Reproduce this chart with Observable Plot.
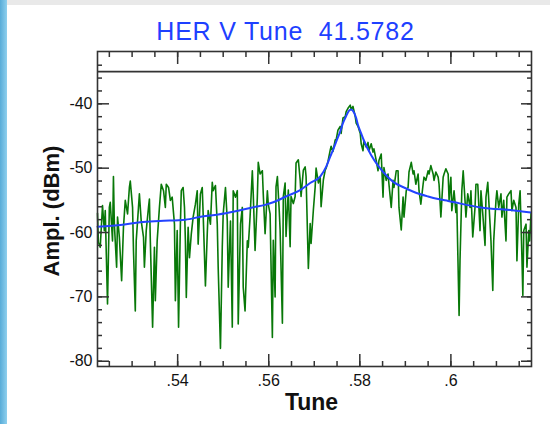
<!DOCTYPE html>
<html>
<head>
<meta charset="utf-8">
<script src="https://cdn.jsdelivr.net/npm/d3@7"></script>
<script src="https://cdn.jsdelivr.net/npm/@observablehq/plot@0.6"></script>
<style>
  body { margin: 0; background: #fff; }
  #page { position: relative; width: 550px; height: 424px; overflow: hidden; background: #fff;
          font-family: "Liberation Sans", Arial, Helvetica, sans-serif; }
  #edge { position: absolute; left: 0; top: 0; width: 7px; height: 424px;
          background: linear-gradient(to right, #58acd8, #8fd0ee); }
  #bar { position: absolute; left: 7px; top: 0; right: 0; height: 5px; background: #e9e9e9; }
  #title { position: absolute; left: 20px; top: 19px; width: 531px; text-align: center;
           font-size: 25px; line-height: 25px; letter-spacing: 0.8px; color: #1e40ff; white-space: pre; }
  #chart { position: absolute; left: 0; top: 46px; }
</style>
</head>
<body>
<div id="page">
  <div id="edge"></div>
  <div id="bar"></div>
  <div id="title">HER V Tune  41.5782</div>
  <div id="chart"></div>
</div>
<script>
// Measured spectrum: tune (fractional) vs. amplitude (dBm)
const specTune = [
  0.5224,0.5226,0.5230,0.5235,0.5239,0.5241,0.5246,0.5250,0.5252,0.5257,0.5259,0.5261,0.5266,0.5268,0.5272,0.5277,
  0.5281,0.5285,0.5290,0.5294,0.5296,0.5301,0.5303,0.5307,0.5309,0.5314,0.5316,0.5320,0.5325,0.5327,0.5331,0.5336,
  0.5338,0.5340,0.5345,0.5349,0.5351,0.5355,0.5360,0.5364,0.5369,0.5373,0.5375,0.5380,0.5384,0.5388,0.5393,0.5395,
  0.5399,0.5402,0.5406,0.5408,0.5412,0.5415,0.5417,0.5419,0.5423,0.5426,0.5430,0.5434,0.5439,0.5443,0.5445,0.5450,
  0.5454,0.5456,0.5461,0.5465,0.5467,0.5472,0.5476,0.5478,0.5483,0.5487,0.5489,0.5494,0.5498,0.5500,0.5505,0.5509,
  0.5511,0.5516,0.5520,0.5522,0.5527,0.5531,0.5533,0.5538,0.5542,0.5544,0.5548,0.5553,0.5555,0.5559,0.5564,0.5566,
  0.5570,0.5575,0.5577,0.5581,0.5586,0.5588,0.5592,0.5597,0.5599,0.5603,0.5608,0.5610,0.5614,0.5616,0.5619,0.5623,
  0.5625,0.5630,0.5632,0.5636,0.5638,0.5643,0.5647,0.5649,0.5654,0.5658,0.5660,0.5665,0.5669,0.5671,0.5676,0.5680,
  0.5682,0.5687,0.5691,0.5693,0.5698,0.5702,0.5704,0.5709,0.5713,0.5715,0.5720,0.5724,0.5726,0.5730,0.5735,0.5737,
  0.5741,0.5746,0.5748,0.5752,0.5757,0.5759,0.5763,0.5768,0.5770,0.5774,0.5779,0.5781,0.5785,0.5790,0.5792,0.5796,
  0.5801,0.5803,0.5807,0.5809,0.5814,0.5818,0.5820,0.5825,0.5829,0.5831,0.5836,0.5840,0.5842,0.5847,0.5851,0.5853,
  0.5858,0.5862,0.5864,0.5869,0.5873,0.5875,0.5880,0.5884,0.5886,0.5891,0.5895,0.5897,0.5902,0.5906,0.5908,0.5913,
  0.5917,0.5919,0.5923,0.5928,0.5930,0.5934,0.5939,0.5941,0.5945,0.5950,0.5952,0.5956,0.5961,0.5963,0.5967,0.5972,
  0.5974,0.5978,0.5983,0.5985,0.5989,0.5994,0.5996,0.6000,0.6002,0.6007,0.6011,0.6013,0.6018,0.6020,0.6024,0.6027,
  0.6031,0.6033,0.6037,0.6042,0.6044,0.6048,0.6053,0.6055,0.6059,0.6064,0.6066,0.6070,0.6075,0.6077,0.6081,0.6086,
  0.6088,0.6092,0.6094,0.6099,0.6101,0.6105,0.6110,0.6112,0.6116,0.6121,0.6123,0.6127,0.6132,0.6134,0.6138,0.6143,
  0.6145,0.6149,0.6152,0.6156,0.6158,0.6160,0.6165,0.6167,0.6171,0.6173,0.6176
];
const specDbm = [
  -57.0,-61.5,-62.3,-55.8,-59.7,-56.6,-71.1,-56.1,-55.3,-61.3,-51.3,-58.7,-65.4,-57.6,-60.7,-67.5,
  -59.2,-55.0,-57.1,-53.0,-52.0,-56.1,-62.8,-72.2,-61.3,-56.1,-54.0,-58.2,-60.7,-65.4,-59.7,-56.1,
  -54.8,-61.3,-74.7,-62.3,-70.6,-61.3,-56.1,-52.5,-53.5,-56.1,-52.5,-53.0,-55.0,-54.5,-58.7,-70.6,
  -59.7,-74.7,-58.7,-53.5,-53.0,-56.1,-61.3,-70.1,-59.2,-63.9,-60.2,-57.6,-55.6,-53.5,-61.8,-54.0,
  -53.0,-57.1,-68.3,-60.2,-56.6,-58.7,-52.2,-53.5,-52.7,-58.7,-65.4,-78.0,-62.3,-57.1,-53.0,-58.2,
  -68.5,-58.2,-74.7,-53.5,-54.5,-53.5,-74.2,-58.7,-56.1,-68.5,-72.2,-61.3,-62.3,-57.6,-50.4,-54.0,
  -62.8,-54.5,-49.1,-50.9,-50.4,-54.0,-60.2,-53.5,-55.6,-57.1,-76.3,-61.2,-70.0,-52.9,-51.3,-56.5,
  -59.6,-74.1,-54.4,-52.3,-60.6,-53.4,-62.2,-54.4,-55.5,-54.4,-49.2,-48.7,-51.8,-54.4,-50.3,-49.8,
  -51.3,-65.6,-58.6,-61.7,-56.5,-52.9,-50.0,-52.3,-51.3,-56.0,-51.8,-50.3,-50.0,-49.0,-47.2,-46.6,
  -47.4,-45.6,-45.6,-44.1,-43.5,-44.6,-42.2,-42.0,-41.2,-40.7,-40.2,-40.9,-40.4,-42.0,-43.0,-43.5,
  -44.6,-46.2,-47.3,-45.7,-46.7,-46.0,-47.3,-46.2,-47.5,-47.0,-48.8,-50.4,-48.8,-47.8,-54.5,-49.9,
  -51.9,-50.9,-52.5,-56.1,-51.9,-53.0,-50.4,-50.4,-56.1,-59.6,-54.5,-57.6,-53.5,-53.0,-50.6,-49.1,
  -50.9,-50.4,-52.5,-50.9,-53.5,-55.6,-52.5,-51.4,-51.9,-50.4,-50.9,-49.6,-50.9,-51.9,-50.6,-51.4,
  -52.5,-57.6,-51.4,-50.9,-50.1,-50.9,-55.0,-51.4,-56.6,-53.5,-56.9,-55.6,-72.9,-64.4,-53.5,-50.4,
  -55.0,-57.6,-54.0,-56.1,-53.5,-60.7,-56.1,-52.5,-52.5,-59.7,-53.5,-57.1,-62.0,-54.5,-52.2,-58.7,
  -61.3,-69.0,-61.3,-55.0,-53.5,-56.1,-54.0,-57.6,-55.0,-61.3,-54.5,-54.0,-53.5,-56.6,-55.0,-56.1,
  -64.4,-55.6,-53.5,-63.9,-69.8,-59.7,-58.7,-65.4,-59.7,-61.3,-57.0
];

// Fitted resonance curve
const fitTune = [
  0.5224,0.5279,0.5318,0.5360,0.5417,0.5454,0.5489,0.5527,0.5564,0.5592,0.5610,0.5638,0.5669,0.5691,
  0.5713,0.5726,0.5735,0.5741,0.5748,0.5757,0.5763,0.5770,0.5776,0.5781,0.5785,0.5792,0.5796,0.5803,
  0.5809,0.5825,0.5840,0.5862,0.5875,0.5897,0.5919,0.5950,0.5972,0.5994,0.6066,0.6143,0.6176
];
const fitDbm = [
  -59.1,-58.8,-58.4,-58.2,-58.0,-57.5,-57.2,-56.7,-56.1,-55.7,-55.3,-54.4,-53.4,-52.3,
  -51.3,-49.8,-48.2,-47.2,-45.9,-44.3,-43.0,-41.9,-41.1,-40.9,-41.1,-42.2,-43.3,-44.6,
  -45.7,-48.0,-49.6,-51.4,-52.2,-53.0,-53.7,-54.4,-54.8,-55.1,-56.1,-56.6,-56.9
];

// Reference level line
const refLevel = [-35];

// Axis ticks and labels
const xTicks = [0.54, 0.56, 0.58, 0.60];
const xTickLabels = [".54", ".56", ".58", ".6"];
const xMinorTicks = [0.525,0.530,0.535,0.540,0.545,0.550,0.555,0.560,0.565,0.570,0.575,0.580,0.585,0.590,0.595,0.600,0.605,0.610,0.615];
const yTicks = [-80, -70, -60, -50, -40];
const yTickLabels = ["-80", "-70", "-60", "-50", "-40"];
const yMinorTicks = [-80,-78,-76,-74,-72,-70,-68,-66,-64,-62,-60,-58,-56,-54,-52,-50,-48,-46,-44,-42,-40,-38,-36,-34];

const xTitle = "Tune";
const yTitle = "Ampl. (dBm)";

const spectrum = specTune.map((t, i) => ({tune: t, dbm: specDbm[i]}));
const fit = fitTune.map((t, i) => ({tune: t, dbm: fitDbm[i]}));
const xLabel = new Map(xTicks.map((t, i) => [t, xTickLabels[i]]));
const yLabel = new Map(yTicks.map((t, i) => [t, yTickLabels[i]]));

const ink = "#333";
const tickOpts = {stroke: ink, strokeWidth: 1.5, fill: "none", label: null};

const chart = Plot.plot({
  width: 550,
  height: 378,
  marginLeft: 97,
  marginRight: 19,
  marginTop: 5,
  marginBottom: 58,
  style: {fontFamily: "'Liberation Sans', Arial, Helvetica, sans-serif", fontSize: "16px", background: "transparent", color: "#111"},
  x: {domain: [0.5224, 0.6177]},
  y: {domain: [-80.82, -31.87]},
  marks: [
    Plot.line(spectrum, {x: "tune", y: "dbm", stroke: "#087808", strokeWidth: 1.6}),
    Plot.line(fit, {x: "tune", y: "dbm", stroke: "#2343ff", strokeWidth: 2, curve: "monotone-x"}),
    Plot.ruleY(refLevel, {stroke: ink, strokeWidth: 1.6}),
    Plot.frame({stroke: ink, strokeWidth: 1.6}),
    // inward tick marks on all four sides
    Plot.axisX(xMinorTicks, {anchor: "bottom", tickSize: 5, dy: -5, ...tickOpts}),
    Plot.axisX(xTicks, {anchor: "bottom", tickSize: 12, dy: -12, ...tickOpts}),
    Plot.axisX(xMinorTicks, {anchor: "top", tickSize: 5, dy: 5, ...tickOpts}),
    Plot.axisX(xTicks, {anchor: "top", tickSize: 12, dy: 12, ...tickOpts}),
    Plot.axisY(yMinorTicks, {anchor: "left", tickSize: 5, dx: 5, ...tickOpts}),
    Plot.axisY(yTicks, {anchor: "left", tickSize: 12, dx: 12, ...tickOpts}),
    Plot.axisY(yMinorTicks, {anchor: "right", tickSize: 5, dx: -5, ...tickOpts}),
    Plot.axisY(yTicks, {anchor: "right", tickSize: 11, dx: -11, ...tickOpts}),
    // tick labels
    Plot.axisX(xTicks, {anchor: "bottom", tickSize: 0, tickPadding: 8, tickFormat: d => xLabel.get(d), label: null, fill: "#111", stroke: "none"}),
    Plot.axisY(yTicks, {anchor: "left", tickSize: 0, tickPadding: 5, tickFormat: d => yLabel.get(d), label: null, fill: "#111", stroke: "none"}),
    // axis titles
    Plot.text([xTitle], {frameAnchor: "bottom", dx: -3, dy: 36, textAnchor: "middle", lineAnchor: "middle", fontSize: 23, fontWeight: "bold", fill: "#111"}),
    Plot.text([yTitle], {frameAnchor: "left", dx: -46, dy: 2, rotate: -90, textAnchor: "middle", lineAnchor: "middle", fontSize: 22, fontWeight: "bold", fill: "#111"})
  ]
});
document.getElementById("chart").appendChild(chart);
</script>
</body>
</html>
